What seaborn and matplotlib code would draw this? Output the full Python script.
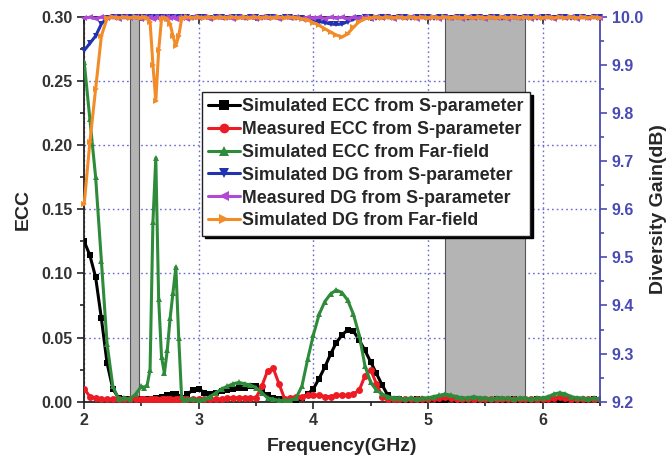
import numpy as np
import pandas as pd
import matplotlib
matplotlib.use("Agg")
import matplotlib.pyplot as plt
from matplotlib.ticker import MultipleLocator
import seaborn as sns

# Frequency sweep (GHz): 0.05 GHz steps, 0.025 GHz steps across the 2.5-2.9 GHz resonances
freq = np.round(np.concatenate([
    np.linspace(2.0, 2.45, 10),
    np.linspace(2.5, 2.875, 16),
    np.linspace(2.9, 6.5, 73),
]), 3)

# Envelope correlation coefficient
ecc_sim_s = [
    0.125, 0.114, 0.097, 0.065, 0.030, 0.010, 0.003, 0.002, 0.002, 0.002,
    0.002, 0.002, 0.002, 0.002, 0.002, 0.003, 0.003, 0.004, 0.004, 0.005, 0.005, 0.006, 0.006, 0.004, 0.002, 0.003,
    0.006, 0.009,
    0.010, 0.007, 0.006, 0.007, 0.008, 0.009, 0.010, 0.011, 0.011, 0.012,
    0.012, 0.008, 0.005, 0.003, 0.002, 0.001, 0.001, 0.001, 0.003, 0.006,
    0.010, 0.018, 0.027, 0.037, 0.046, 0.052, 0.056, 0.055, 0.048, 0.040,
    0.031, 0.022, 0.013, 0.005, 0.002, 0.002, 0.001, 0.001, 0.002, 0.001,
    0.001, 0.002, 0.001, 0.001, 0.002, 0.001, 0.001, 0.001, 0.002, 0.001,
    0.001, 0.001, 0.002, 0.001, 0.001, 0.002, 0.001, 0.001, 0.001, 0.002,
    0.001, 0.001, 0.002, 0.001, 0.001, 0.002, 0.001, 0.001, 0.001, 0.002, 0.001,
]
ecc_meas_s = [
    0.010, 0.004, 0.003, 0.002, 0.002, 0.002, 0.002, 0.002, 0.002, 0.002,
    0.002, 0.002, 0.001, 0.002, 0.002, 0.002, 0.001, 0.002, 0.002, 0.002, 0.002, 0.001, 0.002, 0.002, 0.002, 0.002,
    0.002, 0.002,
    0.002, 0.002, 0.002, 0.002, 0.002, 0.003, 0.003, 0.003, 0.003, 0.003,
    0.003, 0.012, 0.024, 0.026, 0.014, 0.002, 0.003, 0.004, 0.004, 0.005,
    0.005, 0.005, 0.004, 0.004, 0.005, 0.005, 0.005, 0.006, 0.009, 0.020,
    0.025, 0.014, 0.004, 0.002, 0.002, 0.002, 0.002, 0.002, 0.002, 0.002,
    0.002, 0.003, 0.003, 0.004, 0.003, 0.002, 0.002, 0.002, 0.002, 0.002,
    0.002, 0.002, 0.002, 0.002, 0.002, 0.002, 0.002, 0.002, 0.002, 0.002,
    0.002, 0.002, 0.003, 0.004, 0.003, 0.002, 0.002, 0.002, 0.002, 0.002, 0.002,
]
ecc_sim_ff = [
    0.265, 0.220, 0.175, 0.110, 0.045, 0.012, 0.002, 0.003, 0.002, 0.006,
    0.012, 0.011, 0.013, 0.025, 0.140, 0.190, 0.080, 0.035, 0.022, 0.040, 0.065, 0.085, 0.105, 0.050, 0.004, 0.001,
    0.002, 0.002,
    0.001, 0.002, 0.004, 0.007, 0.010, 0.012, 0.014, 0.015, 0.014, 0.013,
    0.011, 0.007, 0.003, 0.002, 0.001, 0.001, 0.001, 0.003, 0.012, 0.033,
    0.052, 0.068, 0.078, 0.084, 0.087, 0.085, 0.079, 0.068, 0.052, 0.028,
    0.015, 0.009, 0.006, 0.004, 0.003, 0.003, 0.002, 0.003, 0.002, 0.003,
    0.003, 0.004, 0.005, 0.006, 0.005, 0.004, 0.003, 0.003, 0.004, 0.003,
    0.003, 0.002, 0.003, 0.003, 0.003, 0.002, 0.003, 0.003, 0.002, 0.003,
    0.003, 0.004, 0.006, 0.007, 0.006, 0.004, 0.003, 0.003, 0.002, 0.003, 0.002,
]

# Diversity gain (dB)
dg_sim_s = [
    9.930, 9.945, 9.960, 9.985, 9.998, 9.999, 9.999, 9.999, 9.999, 9.999,
    9.999, 9.999, 9.998, 9.999, 9.999, 9.998, 9.999, 9.999, 9.999, 9.998, 9.999, 9.999, 9.998, 9.999, 9.999, 9.999,
    9.999, 9.998,
    9.999, 9.999, 9.998, 9.999, 9.999, 9.998, 9.999, 9.999, 9.998, 9.999,
    9.999, 9.998, 9.999, 9.999, 9.998, 9.999, 9.999, 9.998, 9.998, 9.996,
    9.993, 9.990, 9.988, 9.985, 9.984, 9.985, 9.990, 9.995, 9.998, 9.999,
    9.999, 9.998, 9.999, 9.999, 9.998, 9.999, 9.999, 9.998, 9.999, 9.999,
    9.999, 9.998, 9.999, 9.999, 9.998, 9.999, 9.999, 9.998, 9.999, 9.999,
    9.998, 9.999, 9.999, 9.998, 9.999, 9.999, 9.998, 9.999, 9.999, 9.998,
    9.999, 9.999, 9.998, 9.999, 9.999, 9.998, 9.999, 9.999, 9.998, 9.999, 9.999,
]
dg_meas_s = [
    9.997, 9.999, 9.996, 9.999, 9.997, 9.999, 9.996, 9.999, 9.997, 9.999,
    9.996, 9.999, 9.997, 9.999, 9.996, 9.999, 9.997, 9.999, 9.996, 9.999, 9.997, 9.999, 9.996, 9.999, 9.997, 9.999,
    9.996, 9.999,
    9.997, 9.999, 9.996, 9.999, 9.997, 9.999, 9.996, 9.999, 9.997, 9.999,
    9.996, 9.999, 9.997, 9.999, 9.996, 9.999, 9.997, 9.999, 9.996, 9.999,
    9.997, 9.999, 9.996, 9.999, 9.997, 9.999, 9.996, 9.999, 9.997, 9.999,
    9.996, 9.999, 9.997, 9.999, 9.996, 9.999, 9.997, 9.999, 9.996, 9.999,
    9.997, 9.999, 9.996, 9.999, 9.997, 9.999, 9.996, 9.999, 9.997, 9.999,
    9.996, 9.999, 9.997, 9.999, 9.996, 9.999, 9.997, 9.999, 9.996, 9.999,
    9.997, 9.999, 9.996, 9.999, 9.997, 9.999, 9.996, 9.999, 9.997, 9.999, 9.997,
]
dg_sim_ff = [
    9.610, 9.740, 9.850, 9.960, 9.997, 9.999, 9.998, 9.999, 9.998, 9.999,
    9.998, 9.999, 9.997, 9.990, 9.900, 9.825, 9.930, 9.995, 9.998, 9.996, 9.985, 9.960, 9.940, 9.960, 9.995, 9.998,
    9.999, 9.998,
    9.999, 9.998, 9.999, 9.998, 9.999, 9.998, 9.999, 9.998, 9.999, 9.998,
    9.999, 9.998, 9.999, 9.998, 9.999, 9.998, 9.999, 9.998, 9.996, 9.993,
    9.988, 9.982, 9.975, 9.968, 9.962, 9.958, 9.965, 9.978, 9.990, 9.996,
    9.998, 9.999, 9.998, 9.999, 9.998, 9.999, 9.998, 9.999, 9.998, 9.999,
    9.998, 9.999, 9.998, 9.999, 9.998, 9.999, 9.998, 9.999, 9.998, 9.999,
    9.998, 9.999, 9.998, 9.999, 9.998, 9.999, 9.998, 9.999, 9.998, 9.999,
    9.998, 9.999, 9.998, 9.999, 9.998, 9.999, 9.998, 9.999, 9.998, 9.999, 9.998,
]

# Operating bands (GHz)
bands = [(2.40, 2.48), (5.15, 5.85)]

ecc_series = [
    ("Simulated ECC from S-parameter", ecc_sim_s, "#000000", "s"),
    ("Measured ECC from S-parameter", ecc_meas_s, "#ec1c24", "o"),
    ("Simulated ECC from Far-field", ecc_sim_ff, "#2e8b3a", "^"),
]
dg_series = [
    ("Simulated DG from S-parameter", dg_sim_s, "#2233b0", "v"),
    ("Measured DG from S-parameter", dg_meas_s, "#b04ad6", "<"),
    ("Simulated DG from Far-field", dg_sim_ff, "#f28c28", ">"),
]

sns.set_theme(style="white")
plt.rcParams["font.family"] = ["Liberation Sans", "DejaVu Sans"]
plt.rcParams["font.weight"] = "bold"

axis_blue = "#4a4ab4"
tick_gray = "#333333"

fig = plt.figure(figsize=(6.68, 4.66), dpi=100)
ax = fig.add_axes([0.126, 0.138, 0.772, 0.826])
ax2 = ax.twinx()

for lo, hi in bands:
    ax.axvspan(lo, hi, facecolor="#b4b4b4", edgecolor="#555555", linewidth=0.8, zorder=1)

handles = []
for label, vals, color, mk in ecc_series:
    df = pd.DataFrame({"freq": freq, "val": vals})
    sns.lineplot(data=df, x="freq", y="val", ax=ax, color=color, marker=mk,
                 markersize=5, markeredgewidth=0, linewidth=2.2, label=label,
                 legend=False, zorder=3)
    handles.append(ax.lines[-1])

for label, vals, color, mk in dg_series:
    df = pd.DataFrame({"freq": freq, "val": vals})
    sns.lineplot(data=df, x="freq", y="val", ax=ax2, color=color, marker=mk,
                 markersize=5, markeredgewidth=0, linewidth=2.2, label=label,
                 legend=False, clip_on=False, zorder=3)
    handles.append(ax2.lines[-1])

ax.set_xlim(2.0, 6.5)
ax.set_ylim(0.0, 0.30)
ax2.set_ylim(9.2, 10.0)

ax.xaxis.set_major_locator(MultipleLocator(1))
ax.xaxis.set_minor_locator(MultipleLocator(0.5))
ax.yaxis.set_major_locator(MultipleLocator(0.05))
ax.yaxis.set_minor_locator(MultipleLocator(0.025))
ax2.yaxis.set_major_locator(MultipleLocator(0.1))
ax2.yaxis.set_minor_locator(MultipleLocator(0.05))

ax.set_axisbelow(True)
ax.grid(True, which="major", color="#6a6ad0", linestyle=(0, (1.2, 2.2)), linewidth=1.0)

ax.tick_params(axis="x", which="both", direction="out", bottom=True, top=False,
               colors="#222222", labelcolor=tick_gray, labelsize=11.5, width=1.2)
ax.tick_params(axis="x", which="major", length=5)
ax.tick_params(axis="x", which="minor", length=3)
ax.tick_params(axis="y", which="both", direction="out", left=True, right=False,
               colors="#222222", labelcolor=tick_gray, labelsize=11.5, width=1.2)
ax.tick_params(axis="y", which="major", length=5)
ax.tick_params(axis="y", which="minor", length=3)
ax.yaxis.set_major_formatter(plt.FuncFormatter(lambda v, p: f"{v:.2f}"))

ax2.tick_params(axis="y", which="both", direction="out", right=True, colors=axis_blue,
                labelcolor=axis_blue, labelsize=11.5, width=1.2)
ax2.tick_params(axis="y", which="major", length=5)
ax2.tick_params(axis="y", which="minor", length=3)
ax2.yaxis.set_major_formatter(plt.FuncFormatter(lambda v, p: f"{v:.1f}"))

# inward ticks along the top edge
top = ax.secondary_xaxis("top")
top.xaxis.set_major_locator(MultipleLocator(1))
top.xaxis.set_minor_locator(MultipleLocator(0.5))
top.tick_params(which="both", direction="in", labeltop=False, colors="#222222", width=1.2)
top.tick_params(which="major", length=5)
top.tick_params(which="minor", length=3)
top.spines["top"].set_visible(False)

for name in ["left", "bottom", "top"]:
    ax.spines[name].set_color("#222222")
    ax.spines[name].set_linewidth(1.3)
ax.spines["right"].set_visible(False)
for name in ["left", "bottom", "top"]:
    ax2.spines[name].set_visible(False)
ax2.spines["right"].set_color(axis_blue)
ax2.spines["right"].set_linewidth(1.3)

ax.set_xlabel("Frequency(GHz)", fontsize=14, fontweight="bold", labelpad=7)
ax.set_ylabel("ECC", fontsize=14, fontweight="bold", labelpad=7)
ax2.set_ylabel("Diversity Gain(dB)", fontsize=14, fontweight="bold", labelpad=5)

leg = ax2.legend(handles=handles, loc="upper left", bbox_to_anchor=(0.228, 0.805),
                 fontsize=12.8, frameon=True, fancybox=False, markerscale=1.4,
                 shadow={"color": "black", "alpha": 1.0},
                 handlelength=1.8, handletextpad=0.12, labelspacing=0.33,
                 borderpad=0.35, borderaxespad=0.0)
leg.get_frame().set_edgecolor("#222222")
leg.get_frame().set_linewidth(1.0)
for t in leg.get_texts():
    t.set_fontweight("bold")
leg.set_zorder(10)

fig.savefig("out.png", dpi=100)
